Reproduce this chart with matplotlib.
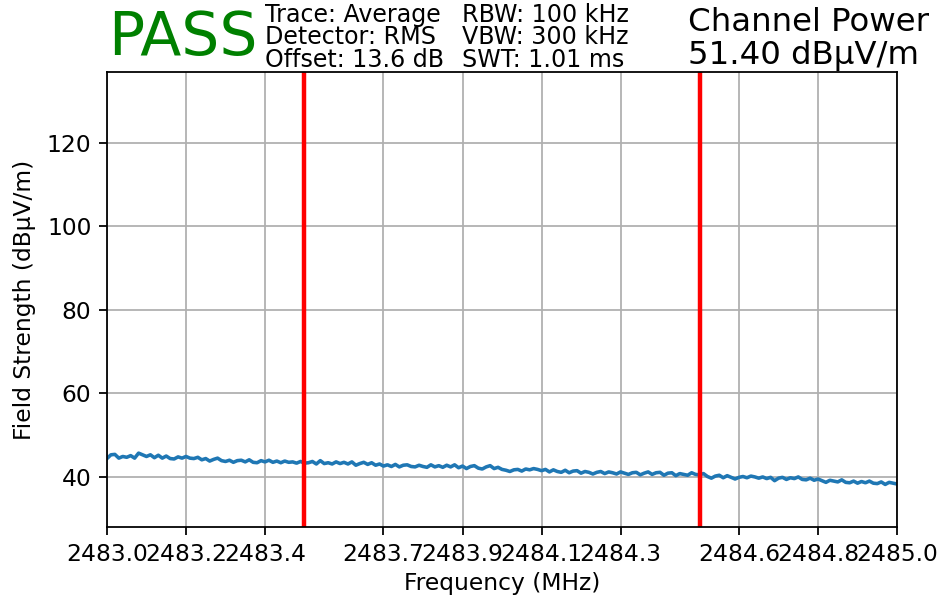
import numpy as np
import matplotlib
matplotlib.use("Agg")
import matplotlib.pyplot as plt

# ============================================================
# Measurement settings / result
START_MHZ = 2483.0
STOP_MHZ = 2485.0
CHANNEL_EDGES = [2483.5, 2484.5]   # red markers (MHz)
CHANNEL_POWER = 51.40              # dBuV/m
VERDICT = "PASS"
SETTINGS_LEFT = ["Trace: Average", "Detector: RMS", "Offset: 13.6 dB"]
SETTINGS_RIGHT = ["RBW: 100 kHz", "VBW: 300 kHz", "SWT: 1.01 ms"]
# ============================================================

# Trace values (dBuV/m), 0.01 MHz apart
TRACE = [
    44.4, 45.3, 45.4, 44.5, 44.9, 44.7, 45.1, 44.5, 45.7, 45.3,
    44.9, 45.3, 44.6, 45.2, 44.5, 45.0, 44.4, 44.3, 44.8, 44.5,
    44.9, 44.5, 44.4, 44.7, 44.1, 44.4, 43.8, 44.2, 44.5, 43.9,
    43.7, 44.0, 43.5, 43.9, 44.0, 43.6, 44.1, 43.5, 43.4, 43.9,
    43.6, 44.0, 43.5, 43.8, 43.4, 43.8, 43.5, 43.6, 43.3, 43.7,
    43.3,
    43.4, 43.7, 43.1, 43.9, 43.2, 43.4, 43.1, 43.6, 43.2, 43.5,
    43.1, 43.6, 42.8, 43.2, 43.5, 43.0, 43.4, 42.8, 43.1, 42.6,
    42.9, 42.5, 43.0, 42.4, 42.8, 42.9, 42.5, 42.4, 42.8, 42.5,
    42.3, 42.9, 42.4, 42.7, 42.3, 42.8, 42.4, 42.9, 42.2, 42.6,
    42.0, 42.5, 42.7, 42.1, 41.9, 42.4, 42.7, 42.0, 42.3, 41.8,
    41.6, 41.3, 41.7, 41.8, 41.4, 41.9, 41.7, 42.0, 41.8, 41.5,
    41.8, 41.2, 41.7, 41.3, 41.1, 41.6, 41.0, 41.4, 41.5, 40.9,
    41.3, 41.1, 40.7, 41.1, 41.3, 40.8, 41.2, 41.0, 40.7, 41.2,
    40.9, 40.6, 41.0, 41.1, 40.5, 40.9, 41.2, 40.6, 41.0, 41.1,
    40.4, 40.9, 41.0, 40.3, 40.8, 40.6, 40.4, 41.0, 40.6, 40.5,
    40.8, 40.1, 39.7, 40.2, 40.4, 39.8, 40.3, 39.9, 39.5, 39.9,
    40.1, 39.8, 40.2, 40.0, 39.7, 40.0, 39.6, 39.9, 39.1, 39.7,
    39.9, 39.4, 39.8, 39.6, 40.0, 39.4, 39.3, 39.7, 39.2, 39.5,
    39.1, 38.7, 39.2, 39.0, 38.8, 39.3, 38.7, 38.6, 39.0, 38.5,
    38.9, 38.6, 39.0, 38.5, 38.4, 38.8, 38.2, 38.7, 38.5, 38.3,
]

X_TICKS = [2483.0, 2483.2, 2483.4, 2483.7, 2483.9, 2484.1, 2484.3, 2484.6, 2484.8, 2485.0]
Y_TICKS = [40, 60, 80, 100, 120]

FS = 10.5  # axis text size


def main():
    freq = np.linspace(START_MHZ, STOP_MHZ, len(TRACE))

    fig = plt.figure(figsize=(9.4 / 1.6, 5.98 / 1.6), dpi=160)
    ax = fig.add_axes([0.1138, 0.1187, 0.8405, 0.7609])

    ax.plot(freq, TRACE, color="#1f77b4", lw=1.6)
    for f in CHANNEL_EDGES:
        ax.axvline(f, color="red", lw=2)

    ax.set_xlim(START_MHZ, STOP_MHZ)
    ax.set_ylim(28, 137)
    ax.set_xticks(X_TICKS)
    ax.set_xticklabels([f"{t:.1f}" for t in X_TICKS])
    ax.set_yticks(Y_TICKS)
    ax.tick_params(labelsize=FS)
    ax.grid(True)
    ax.set_xlabel("Frequency (MHz)", fontsize=FS, labelpad=3)
    ax.set_ylabel("Field Strength (dBμV/m)", fontsize=FS, labelpad=5)

    # header
    fig.text(108 / 940, 1 - 55 / 598, VERDICT, color="green", fontsize=27,
             va="baseline", ha="left")
    for i, (a, b) in enumerate(zip(SETTINGS_LEFT, SETTINGS_RIGHT)):
        y = 1 - (22 + 22.5 * i) / 598
        fig.text(265 / 940, y, a, fontsize=10.7, va="baseline", ha="left")
        fig.text(462 / 940, y, b, fontsize=10.7, va="baseline", ha="left")
    fig.text(688 / 940, 1 - 31 / 598, "Channel Power", fontsize=14.6,
             va="baseline", ha="left")
    fig.text(688 / 940, 1 - 64 / 598, f"{CHANNEL_POWER:.2f} dBμV/m", fontsize=14.6,
             va="baseline", ha="left")

    fig.savefig("out.png", dpi=160)


if __name__ == "__main__":
    main()
